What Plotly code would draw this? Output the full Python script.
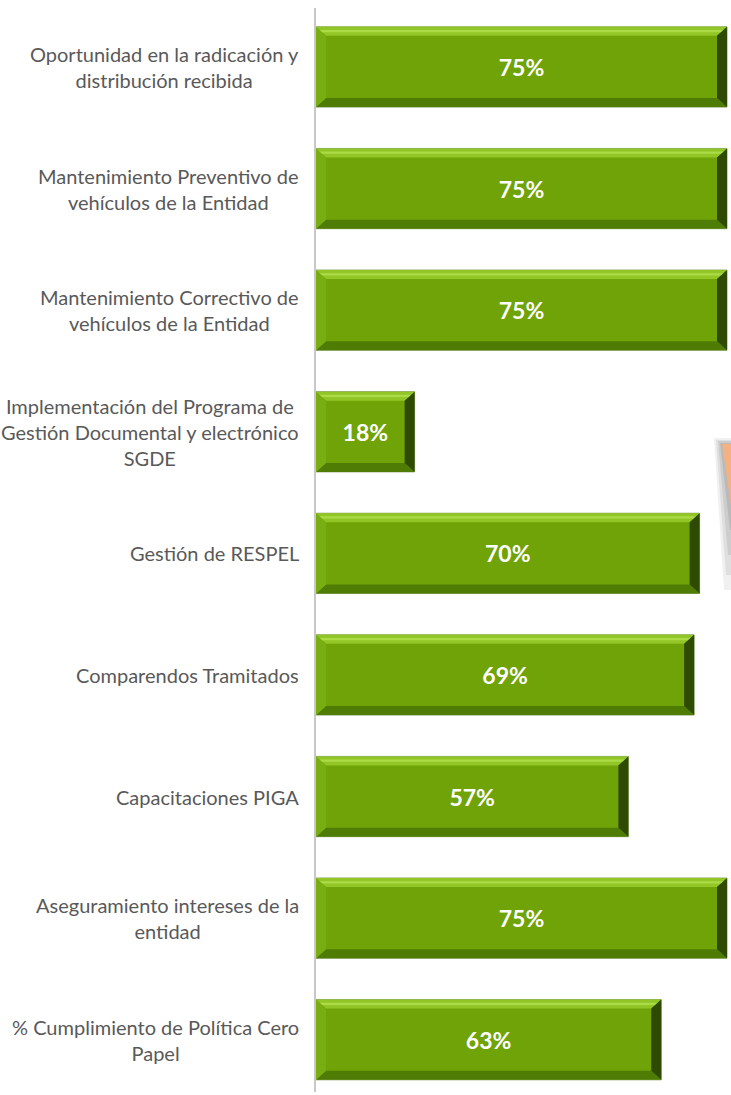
import plotly.graph_objects as go

categories = [
    "Oportunidad en la radicación y<br>distribución recibida",
    "Mantenimiento Preventivo de<br>vehículos de la Entidad",
    "Mantenimiento Correctivo de<br>vehículos de la Entidad",
    "Implementación del Programa de<br>Gestión Documental y electrónico<br>SGDE",
    "Gestión de RESPEL",
    "Comparendos Tramitados",
    "Capacitaciones PIGA",
    "Aseguramiento intereses de la<br>entidad",
    "% Cumplimiento de Política Cero<br>Papel",
]
values = [75, 75, 75, 18, 70, 69, 57, 75, 63]
value_labels = ["75%", "75%", "75%", "18%", "70%", "69%", "57%", "75%", "63%"]

W, H = 731, 1095
ML, MR, MT, MB = 316, 0, 8, 3
XMAX = 75.73
BAR_W = 0.66

positions = list(range(len(categories)))

fig = go.Figure()
fig.add_trace(go.Bar(
    x=values, y=positions, orientation="h", width=BAR_W,
    marker=dict(color="#6FA307", line=dict(color="#8FA870", width=1)),
    text=[f"<b>{t}</b>" for t in value_labels],
    textposition="inside", insidetextanchor="middle", textangle=0,
    textfont=dict(family="Lato", size=23, color="white"),
    constraintext="none", hoverinfo="skip",
))

# bevel effect derived from data values
plot_w = W - ML - MR
plot_h = H - MT - MB
yspan = 8.43 + 0.485
dx = 10 / (plot_w / XMAX)
dy = 9 / (plot_h / yspan)
h = BAR_W / 2
shapes = []
def poly(pts, color, opacity=1.0):
    path = "M " + " L ".join(f"{a},{b}" for a, b in pts) + " Z"
    return dict(type="path", path=path, xref="x", yref="y", fillcolor=color,
                line=dict(width=0), opacity=opacity, layer="above")
for i, v in zip(positions, values):
    top, bot = i - h, i + h
    shapes.append(poly([(0, top), (v, top), (v - dx, top + dy), (dx, top + dy)], "#92C526"))
    shapes.append(poly([(dx * 0.3, top + dy * 0.35), (v - dx * 0.3, top + dy * 0.35),
                        (v - dx * 0.55, top + dy * 0.6), (dx * 0.55, top + dy * 0.6)], "#B2E050", 0.8))
    shapes.append(poly([(0, bot), (v, bot), (v - dx, bot - dy), (dx, bot - dy)], "#4F7C05"))
    shapes.append(poly([(0, top), (dx, top + dy), (dx, bot - dy), (0, bot)], "#78AE12"))
    shapes.append(poly([(v, top), (v, bot), (v - dx, bot - dy), (v - dx, top + dy)], "#2F4B03"))

# partially visible orange callout at right edge (with soft shadow)
def px(xp):
    return (xp - ML) / plot_w
def py(yp):
    return 1 - (yp - MT) / plot_h
for (x0, y0, x1, y1, a) in [(714, 438, 724, 590, 0.06), (716, 440, 726, 575, 0.07),
                            (718, 441, 728, 555, 0.08), (720, 443, 730, 530, 0.09)]:
    shapes.append(dict(type="path", xref="paper", yref="paper",
                       path=f"M {px(x0)},{py(y0)} L {px(735)},{py(y0)} L {px(735)},{py(y1)} L {px(x1)},{py(y1)} Z",
                       fillcolor=f"rgba(0,0,0,{a})", line=dict(width=0), layer="above"))
shapes.append(dict(type="path", xref="paper", yref="paper",
                   path=f"M {px(722)},{py(444)} L {px(735)},{py(444)} L {px(735)},{py(520)} L {px(731)},{py(505)} Z",
                   fillcolor="#F4B183", line=dict(width=0), layer="above"))

annotations = []
for i, c in zip(positions, categories):
    annotations.append(dict(
        text=c, x=0, xref="paper", y=i, yref="y", xanchor="right", yanchor="middle",
        xshift=-15, align="center", showarrow=False,
        font=dict(family="Lato", size=20, color="#595959"),
    ))

fig.update_layout(
    width=W, height=H, autosize=False,
    margin=dict(l=ML, r=MR, t=MT, b=MB, pad=0),
    paper_bgcolor="white", plot_bgcolor="white",
    showlegend=False, bargap=0.34,
    shapes=shapes, annotations=annotations,
    xaxis=dict(range=[0, XMAX], showgrid=False, zeroline=False, showticklabels=False,
               showline=False, ticks=""),
    yaxis=dict(range=[8.43, -0.485], showgrid=False, zeroline=False, showticklabels=False,
               showline=True, linecolor="#C8C8C8", linewidth=2, ticks=""),
)

fig.write_html("out.html", config={"displayModeBar": False},
               post_script="document.body.style.margin='0';document.body.style.overflow='hidden';")
